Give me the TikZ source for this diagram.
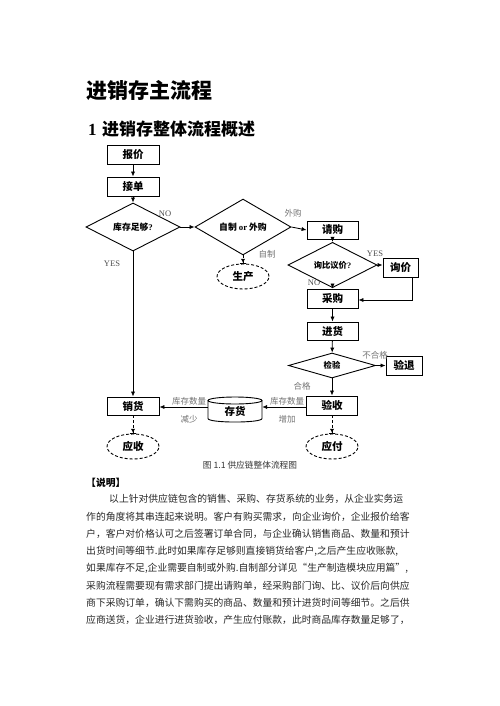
\documentclass[tikz,border=0pt]{standalone}
\usepackage{fontspec}
\setmainfont{Liberation Serif}
\newfontfamily\cjk{Noto Sans CJK SC}
\usetikzlibrary{shapes.geometric,arrows.meta}
\XeTeXlinebreaklocale "zh"
\XeTeXlinebreakskip = 0pt plus 4pt
\begin{document}
\begin{tikzpicture}[x=1pt,y=-1pt,
  box/.style={draw, line width=0.9pt, minimum width=52pt, minimum height=19pt, inner sep=0pt,
    font=\cjk\bfseries\fontsize{10.5}{12}\selectfont},
  dia/.style={draw, diamond, line width=0.9pt, inner sep=0pt,
    font=\cjk\bfseries\fontsize{8.8}{10}\selectfont},
  oval/.style={draw, ellipse, line width=0.9pt, dash pattern=on 3pt off 2pt, inner sep=0pt,
    minimum width=52pt, minimum height=25pt, font=\cjk\bfseries\fontsize{10.5}{12}\selectfont},
  arr/.style={-{Latex[length=5pt,width=4.2pt]}, line width=0.8pt},
  darr/.style={dash pattern=on 3pt off 2pt, -{Latex[length=4pt,width=4.5pt]Bar[width=6pt,line width=0.8pt]}, line width=0.8pt},
  lab/.style={font=\cjk\fontsize{8.5}{10}\selectfont, text=black!55, inner sep=0pt},
  ylab/.style={font=\fontsize{8.5}{10}\selectfont, text=black!70, inner sep=0pt},
  para/.style={anchor=west, inner sep=0pt, font=\cjk\fontsize{9.8}{12}\selectfont, text=black!85}
]
\useasboundingbox (0,0) rectangle (500,706);

% headings
\node[anchor=west, inner sep=0pt, font=\cjk\bfseries\fontsize{21}{24}\selectfont] (title) at (86,91) {进销存主流程};
\node[anchor=west, inner sep=0pt, font=\fontsize{17}{20}\selectfont] (sec) at (88,129)
  {\textbf{1}\hspace{5.5pt}{\cjk\bfseries 进销存整体流程概述}};

% nodes
\node[box] (bj) at (133,154.5) {报价};
\node[box] (jd) at (133,186.5) {接单};
\node[dia, minimum width=94pt, minimum height=38pt] (d1) at (133,227) {库存足够\textrm{?}};
\node[dia, minimum width=96pt, minimum height=38pt] (d2) at (243,227) {自制 \textrm{or} 外购};
\node[oval] (sc) at (243,276.5) {生产};
\node[box, minimum width=51pt, minimum height=18pt] (qg) at (332.5,230) {请购};
\node[dia, minimum width=89pt, minimum height=25pt, font=\cjk\bfseries\fontsize{8.3}{10}\selectfont] (d3) at (332.5,265) {询比议价\textrm{?}};
\node[box, minimum width=35pt] (xj) at (400.5,267.5) {询价};
\node[box, minimum width=51pt] (cg) at (332.5,298.5) {采购};
\node[box, minimum width=51pt, minimum height=18pt] (jh) at (332.5,331) {进货};
\node[dia, minimum width=87pt, minimum height=25pt, font=\cjk\bfseries\fontsize{8.3}{10}\selectfont] (d4) at (332,365.5) {检验};
\node[box, minimum width=36pt] (yt) at (404,365.5) {验退};
\node[box, minimum width=51pt] (ys) at (332,405.5) {验收};
\node[oval] (yf) at (332,446.5) {应付};
\node[box, minimum height=18pt] (xh) at (133,406) {销货};
\node[oval] (sy) at (133,446.5) {应收};
% cylinder
\node[minimum width=54pt, minimum height=25pt, inner sep=0pt, font=\cjk\bfseries\fontsize{10.5}{12}\selectfont] (ch) at (235,411) {存货};
\draw[line width=0.9pt] (235,400.5) ellipse [x radius=27pt, y radius=3.5pt];
\draw[line width=0.9pt] (208,400.5) -- (208,418.5) .. controls (208,423.2) and (262,423.2) .. (262,418.5) -- (262,400.5);

% connectors
\draw[arr] (bj) -- (jd);
\draw[arr] (jd) -- (d1);
\draw[arr] (d1.east) -- (d2.west);
\draw[arr] (d1.south) -- (xh.north);
\draw[arr] (d2.east) -- (qg.west);
\draw[darr] (d2.south) -- (sc.north);
\draw[arr] (qg) -- (d3);
\draw[arr] (d3.east) -- (xj.west |- d3.east);
\draw[arr] (d3.south) -- (cg.north);
\draw[arr] ([xshift=11.5pt]xj.south) |- ([yshift=-1.5pt]cg.east);
\draw[arr] (cg) -- (jh);
\draw[arr] (jh) -- (d4);
\draw[arr] (d4.east) -- (yt.west);
\draw[arr] (d4.south) -- (ys.north);
\draw[arr] (ys.west |- 0,407) -- (ch.east |- 0,407);
\draw[arr] (ch.west |- 0,407) -- (xh.east |- 0,407);
\draw[darr] (xh.south) -- (sy.north);
\draw[darr] (ys.south) -- (yf.north);

% edge labels
\node[ylab] (l1) at (165,214) {NO};
\node[ylab] (l2) at (112,264) {YES};
\node[lab] (l3) at (293,213) {外购};
\node[lab] (l4) at (267,254) {自制};
\node[ylab] (l5) at (375,254) {YES};
\node[ylab] (l6) at (314,283) {NO};
\node[lab] (l7) at (375,355) {不合格};
\node[lab] (l8) at (302,386) {合格};
\node[lab] (l9) at (287,401) {库存数量};
\node[lab] (l10) at (287,419) {增加};
\node[lab] (l11) at (189,401) {库存数量};
\node[lab] (l12) at (189,419) {减少};

% caption
\node[inner sep=0pt, font=\cjk\fontsize{8.7}{10}\selectfont, text=black!80] (cap) at (250,465) {图 1.1 供应链整体流程图};

% text
\node[anchor=west, inner sep=0pt, font=\cjk\bfseries\fontsize{9.8}{12}\selectfont] (sm) at (86,483) {【说明】};
\node[para] (p1) at (109,499) {\makebox[304pt][s]{以上针对供应链包含的销售、采购、存货系统的业务，从企业实务运}};
\node[para] (p2) at (86,516.5) {\makebox[327pt][s]{作的角度将其串连起来说明。客户有购买需求，向企业询价，企业报价给客}};
\node[para] (p3) at (86,534) {\makebox[327pt][s]{户，客户对价格认可之后签署订单合同，与企业确认销售商品、数量和预计}};
\node[para] (p4) at (86,551) {\makebox[327pt][s]{出货时间等细节.此时如果库存足够则直接销货给客户,之后产生应收账款,}};
\node[para] (p5) at (86,568) {\makebox[327pt][s]{如果库存不足,企业需要自制或外购.自制部分详见“生产制造模块应用篇”,}};
\node[para] (p6) at (86,585.5) {\makebox[327pt][s]{采购流程需要现有需求部门提出请购单，经采购部门询、比、议价后向供应}};
\node[para] (p7) at (86,603) {\makebox[327pt][s]{商下采购订单，确认下需购买的商品、数量和预计进货时间等细节。之后供}};
\node[para] (p8) at (86,620) {\makebox[327pt][s]{应商送货，企业进行进货验收，产生应付账款，此时商品库存数量足够了，}};
\end{tikzpicture}
\end{document}
